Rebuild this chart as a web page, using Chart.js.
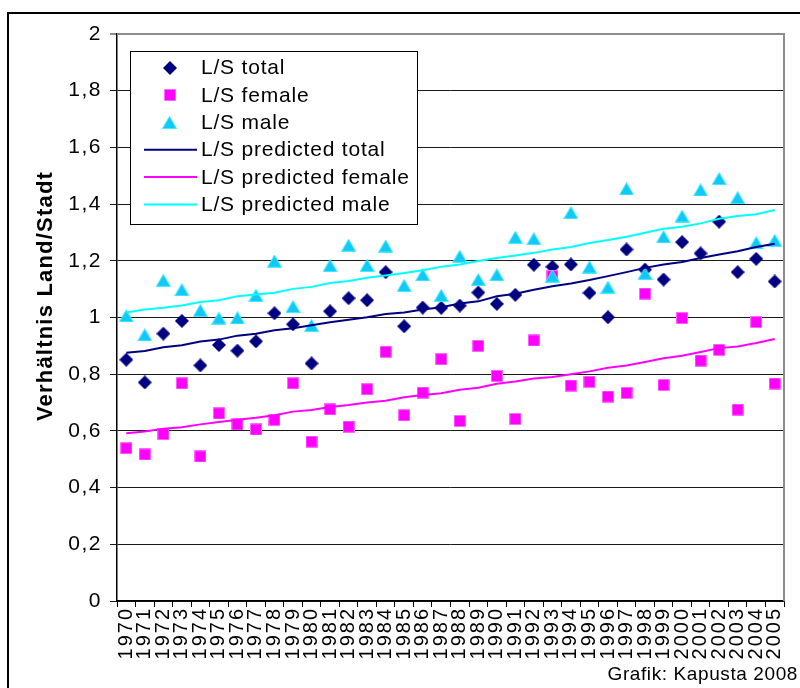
<!DOCTYPE html>
<html>
<head>
<meta charset="utf-8">
<script src="https://cdn.jsdelivr.net/npm/chart.js@4/dist/chart.umd.min.js"></script>
<style>
  html, body { margin: 0; padding: 0; background: #fff; }
  #wrap { width: 800px; height: 688px; position: relative; }
</style>
</head>
<body>
<div id="wrap"><canvas id="c" width="800" height="688"></canvas></div>
<script>
// Ratio rural/urban (Land/Stadt), 1970-2005
const years = ['1970','1971','1972','1973','1974','1975','1976','1977','1978','1979','1980','1981',
               '1982','1983','1984','1985','1986','1987','1988','1989','1990','1991','1992','1993',
               '1994','1995','1996','1997','1998','1999','2000','2001','2002','2003','2004','2005'];

const lsTotal = [0.851,0.771,0.943,0.988,0.831,0.903,0.883,0.916,1.015,0.976,0.838,1.022,
                 1.068,1.061,1.160,0.969,1.035,1.034,1.042,1.088,1.048,1.080,1.186,1.179,
                 1.187,1.087,1.001,1.240,1.169,1.134,1.266,1.226,1.338,1.160,1.207,1.127];

const lsFemale = [0.539,0.517,0.589,0.768,0.510,0.662,0.623,0.605,0.639,0.768,0.562,0.676,
                  0.615,0.747,0.879,0.655,0.735,0.853,0.635,0.900,0.794,0.642,0.919,1.146,
                  0.760,0.773,0.721,0.734,1.084,0.762,0.998,0.848,0.886,0.675,0.984,0.767];

const lsMale = [1.006,0.939,1.131,1.098,1.025,0.998,0.999,1.078,1.199,1.039,0.972,1.183,
                1.255,1.184,1.252,1.113,1.151,1.078,1.216,1.134,1.151,1.283,1.278,1.146,
                1.370,1.178,1.107,1.454,1.155,1.285,1.358,1.450,1.490,1.423,1.264,1.272];

const predTotal = [0.876,0.882,0.895,0.902,0.915,0.922,0.936,0.943,0.955,0.962,0.973,0.983,
                   0.992,1.001,1.012,1.018,1.028,1.036,1.049,1.057,1.075,1.084,1.098,1.110,
                   1.120,1.132,1.146,1.160,1.175,1.187,1.196,1.210,1.222,1.234,1.249,1.260];

const predFemale = [0.592,0.598,0.608,0.613,0.623,0.631,0.639,0.646,0.655,0.668,0.674,0.684,
                    0.691,0.700,0.706,0.719,0.727,0.733,0.745,0.752,0.766,0.774,0.785,0.790,
                    0.800,0.810,0.823,0.831,0.843,0.856,0.865,0.878,0.892,0.898,0.910,0.924];

const predMale = [1.018,1.028,1.034,1.042,1.055,1.061,1.075,1.081,1.087,1.101,1.108,1.122,
                  1.129,1.140,1.148,1.157,1.167,1.179,1.187,1.199,1.210,1.219,1.228,1.240,
                  1.249,1.263,1.273,1.285,1.299,1.313,1.320,1.332,1.348,1.358,1.364,1.379];

const yTicks = [0, 0.2, 0.4, 0.6, 0.8, 1, 1.2, 1.4, 1.6, 1.8, 2];

const FONT = '"Liberation Sans", Arial, sans-serif';

// Marker images, centred in their own box
function makeMarker(shape, w, h, fill, stroke) {
  const cv = document.createElement('canvas');
  cv.width = w; cv.height = h;
  const g = cv.getContext('2d');
  g.fillStyle = fill;
  g.strokeStyle = stroke;
  g.lineWidth = 1;
  g.beginPath();
  if (shape === 'diamond') {
    g.moveTo(w / 2, 0); g.lineTo(w, h / 2); g.lineTo(w / 2, h); g.lineTo(0, h / 2);
  } else if (shape === 'square') {
    g.rect(0.5, 0.5, w - 1, h - 1);
  } else {
    g.moveTo(w / 2, 0.5); g.lineTo(w - 0.5, h - 0.5); g.lineTo(0.5, h - 0.5);
  }
  g.closePath();
  g.fill();
  if (stroke) g.stroke();
  return cv;
}
const mkDiamond = makeMarker('diamond', 14, 14, '#000080', null);
const mkSquare = makeMarker('square', 12, 12, '#ff00ff', '#ff66ff');
const mkTriangle = makeMarker('triangle', 15, 13, '#12c8f6', '#45ecff');

const lineWidth = 2;

const datasets = [
  { label: 'L/S total', data: lsTotal, showLine: false, pointStyle: mkDiamond, order: 6,
    borderColor: '#000080', backgroundColor: '#000080' },
  { label: 'L/S female', data: lsFemale, showLine: false, pointStyle: mkSquare, order: 5,
    borderColor: '#ff00ff', backgroundColor: '#ff00ff' },
  { label: 'L/S male', data: lsMale, showLine: false, pointStyle: mkTriangle, order: 4,
    borderColor: '#00ccff', backgroundColor: '#00ccff' },
  { label: 'L/S predicted total', data: predTotal, borderColor: '#000080', borderWidth: lineWidth,
    pointRadius: 0, order: 3, tension: 0 },
  { label: 'L/S predicted female', data: predFemale, borderColor: '#ff00ff', borderWidth: lineWidth,
    pointRadius: 0, order: 2, tension: 0 },
  { label: 'L/S predicted male', data: predMale, borderColor: '#00ffff', borderWidth: lineWidth,
    pointRadius: 0, order: 1, tension: 0 }
];

// Wider glyph spacing for a scale's tick labels
function spacedLabels(spacing) {
  return function (scale) {
    if (scale._spacedLabels) return;
    const orig = scale.drawLabels;
    scale.drawLabels = function (area) {
      const ctx = this.ctx;
      const prev = ctx.letterSpacing;
      ctx.letterSpacing = spacing;
      orig.call(this, area);
      ctx.letterSpacing = prev;
    };
    scale._spacedLabels = true;
  };
}

// Frame, plot border, axis title, legend box and source note
const decorations = {
  id: 'decorations',
  afterDraw(chart) {
    const ctx = chart.ctx;
    const a = chart.chartArea;
    ctx.save();

    // plot border (top and right)
    ctx.strokeStyle = '#8c8c8c';
    ctx.lineWidth = 2;
    ctx.beginPath();
    ctx.moveTo(a.left, a.top);
    ctx.lineTo(a.right, a.top);
    ctx.lineTo(a.right, a.bottom);
    ctx.stroke();

    // outer frame
    ctx.strokeStyle = '#000';
    ctx.lineWidth = 2;
    ctx.beginPath();
    ctx.moveTo(8, 688);
    ctx.lineTo(8, 13);
    ctx.lineTo(800, 13);
    ctx.stroke();

    // y axis title
    ctx.save();
    ctx.translate(46, 296);
    ctx.rotate(-Math.PI / 2);
    ctx.fillStyle = '#000';
    ctx.font = 'bold 22px ' + FONT;
    ctx.letterSpacing = '1.2px';
    ctx.textAlign = 'center';
    ctx.textBaseline = 'middle';
    ctx.fillText('Verhältnis Land/Stadt', 0, 0);
    ctx.restore();

    // legend
    const lx = 130, ly = 51, lw = 287, lh = 173;
    ctx.fillStyle = '#fff';
    ctx.fillRect(lx, ly, lw, lh);
    ctx.strokeStyle = '#000';
    ctx.lineWidth = 1;
    ctx.strokeRect(lx + 0.5, ly + 0.5, lw, lh);
    const rowY0 = 67.5, rowStep = 27.4;
    ctx.font = '21px ' + FONT;
    ctx.letterSpacing = '0.8px';
    ctx.textAlign = 'left';
    ctx.textBaseline = 'middle';
    chart.data.datasets.forEach((ds, i) => {
      const y = rowY0 + i * rowStep;
      if (ds.showLine === false) {
        const img = ds.pointStyle;
        ctx.drawImage(img, Math.round(169.5 - img.width / 2), Math.round(y - img.height / 2));
      } else {
        ctx.strokeStyle = ds.borderColor;
        ctx.lineWidth = lineWidth;
        ctx.beginPath();
        ctx.moveTo(144, y);
        ctx.lineTo(197, y);
        ctx.stroke();
      }
      ctx.fillStyle = '#000';
      ctx.fillText(ds.label, 201, y + 1);
    });

    // source note
    ctx.font = '19px ' + FONT;
    ctx.letterSpacing = '0.6px';
    ctx.textAlign = 'right';
    ctx.textBaseline = 'alphabetic';
    ctx.fillStyle = '#000';
    ctx.fillText('Grafik: Kapusta 2008', 798, 680);
    ctx.restore();
  }
};

new Chart(document.getElementById('c'), {
  type: 'line',
  data: { labels: years, datasets },
  options: {
    responsive: false,
    animation: false,
    devicePixelRatio: 1,
    layout: { padding: { left: 0, top: 34, right: 16, bottom: 0 } },
    plugins: { legend: { display: false }, tooltip: { enabled: false } },
    elements: { point: { radius: 7, hoverRadius: 7 } },
    scales: {
      x: {
        type: 'category',
        offset: true,
        afterFit(scale) { scale.height = 87; },
        afterUpdate: spacedLabels('2px'),
        grid: { offset: true, drawOnChartArea: false, drawTicks: true, tickLength: 6, color: '#000', lineWidth: 1 },
        border: { color: '#000', width: 1.5 },
        ticks: {
          autoSkip: false, minRotation: 90, maxRotation: 90, padding: 0,
          color: '#000', font: { family: FONT, size: 20 }
        }
      },
      y: {
        min: 0, max: 2,
        afterFit(scale) { scale.width = 117; },
        afterBuildTicks(scale) { scale.ticks = yTicks.map(v => ({ value: v })); },
        afterUpdate: spacedLabels('1.5px'),
        grid: {
          tickLength: 7,
          color: ctx => (ctx.tick && ctx.tick.value === 2 ? '#8c8c8c' : '#1a1a1a'),
          lineWidth: ctx => (ctx.tick && ctx.tick.value === 2 ? 2 : 1)
        },
        border: { color: '#000', width: 1.5 },
        ticks: {
          padding: 8, color: '#000', font: { family: FONT, size: 21 },
          callback: v => String(Math.round(v * 10) / 10).replace('.', ',')
        }
      }
    }
  },
  plugins: [decorations]
});
</script>
</body>
</html>
